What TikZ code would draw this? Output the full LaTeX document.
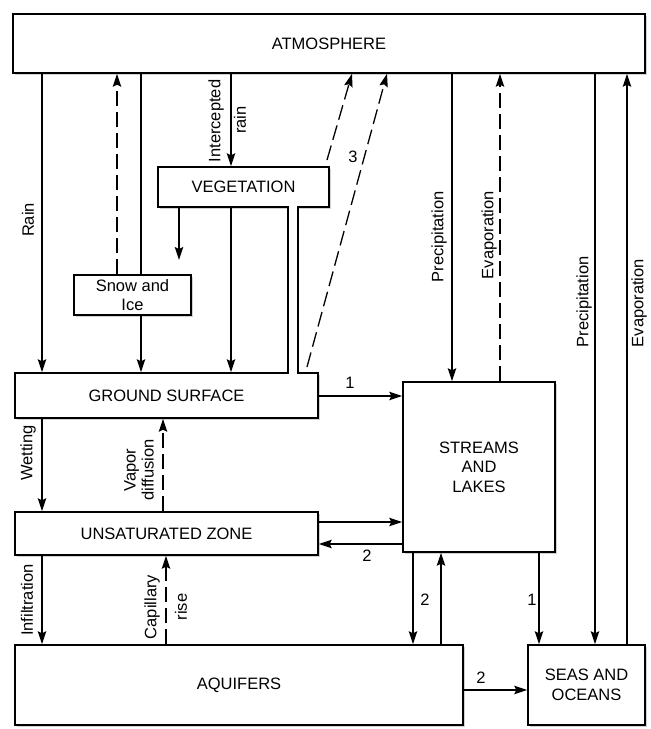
\documentclass[tikz,border=0pt]{standalone}
\usepackage{fontspec}
\setmainfont{Liberation Sans}
\usetikzlibrary{arrows.meta,calc,shadows}
\begin{document}
\begin{tikzpicture}[x=1pt,y=-1pt,
  box/.style={draw, line width=1.5pt, fill=white, inner sep=0pt, font=\fontsize{16.5}{19.5}\selectfont, align=center,
    drop shadow={shadow xshift=1.8pt, shadow yshift=-1.8pt, fill=black!35}},
  flow/.style={line width=1.3pt, -{Stealth[length=13pt,width=8.5pt,inset=2pt]}},
  dflow/.style={flow, dash pattern=on 15pt off 6pt},
  plain/.style={line width=1.3pt},
  lbl/.style={font=\fontsize{16.5}{18}\selectfont, inner sep=1pt, align=center},
  vlbl/.style={lbl, rotate=90}]
\useasboundingbox (0,0) rectangle (651,729);

% boxes
\node[box, minimum width=632pt, minimum height=59pt] (atm) at (329,43.5) {ATMOSPHERE};
\node[box, minimum width=171pt, minimum height=40pt] (veg) at (243.5,187) {VEGETATION};
\node[box, minimum width=117pt, minimum height=40pt] (snow) at (132.5,295) {Snow and\\Ice};
\node[box, minimum width=303pt, minimum height=45pt] (ground) at (166.5,395.5) {GROUND SURFACE};
\node[box, minimum width=303pt, minimum height=43pt] (unsat) at (166.5,533.5) {UNSATURATED ZONE};
\node[box, minimum width=152pt, minimum height=170pt] (streams) at (479,467) {STREAMS\\AND\\LAKES};
\node[box, minimum width=448pt, minimum height=80pt] (aquifers) at (239,685) {AQUIFERS};
\node[box, minimum width=117pt, minimum height=80pt] (seas) at (586.5,685) {SEAS AND\\OCEANS};

% helper columns and rows
\coordinate (cRain) at (42,0);
\coordinate (cSnowUp) at (117,0);
\coordinate (cSnow) at (141,0);
\coordinate (cVegL) at (179,0);
\coordinate (cInt) at (231,0);
\coordinate (stemL) at (288,0);
\coordinate (stemR) at (298,0);
\coordinate (cT1) at (352,0);
\coordinate (cT2) at (387,0);
\coordinate (cPrecA) at (452,0);
\coordinate (cEvapA) at (500,0);
\coordinate (cPrecB) at (595,0);
\coordinate (cEvapB) at (627,0);
\coordinate (cVap) at (163,0);
\coordinate (cCap) at (166,0);
\coordinate (cSA) at (413,0);
\coordinate (cAS) at (441,0);
\coordinate (cSS) at (539,0);
\coordinate (rGS) at (0,396);
\coordinate (rUS1) at (0,522);
\coordinate (rUS2) at (0,544);
\coordinate (rAq) at (0,690);
\coordinate (vegEnd) at (179,260);
\coordinate (t1) at (327,160);
\coordinate (t2) at (307,367);

% vegetation stem joining the ground surface
\fill[white] ($(veg.south -| stemL)+(0.8,-2)$) rectangle ($(ground.north -| stemR)+(-0.8,2.5)$);
\draw[line width=1.5pt] (veg.south -| stemL) -- (ground.north -| stemL);
\draw[line width=1.5pt] (veg.south -| stemR) -- (ground.north -| stemR);

% upper connectors
\draw[flow] (atm.south -| cRain) -- (ground.north -| cRain);
\draw[dflow] (snow.north -| cSnowUp) -- (atm.south -| cSnowUp);
\draw[plain] (atm.south -| cSnow) -- (snow.north -| cSnow);
\draw[flow] (snow.south -| cSnow) -- (ground.north -| cSnow);
\draw[flow] (atm.south -| cInt) -- (veg.north -| cInt);
\draw[flow] (veg.south -| cVegL) -- (vegEnd);
\draw[flow] (veg.south -| cInt) -- (ground.north -| cInt);
\draw[dflow] (t1) -- (atm.south -| cT1);
\draw[dflow] (t2) -- (atm.south -| cT2);
\draw[flow] (atm.south -| cPrecA) -- (streams.north -| cPrecA);
\draw[dflow] (streams.north -| cEvapA) -- (atm.south -| cEvapA);
\draw[flow] (atm.south -| cPrecB) -- (seas.north -| cPrecB);
\draw[flow] (seas.north -| cEvapB) -- (atm.south -| cEvapB);

% middle connectors
\draw[flow] (ground.east |- rGS) -- (streams.west |- rGS);
\draw[flow] (ground.south -| cRain) -- (unsat.north -| cRain);
\draw[dflow] (unsat.north -| cVap) -- (ground.south -| cVap);
\draw[flow] (unsat.east |- rUS1) -- (streams.west |- rUS1);
\draw[flow] (streams.west |- rUS2) -- (unsat.east |- rUS2);

% lower connectors
\draw[flow] (unsat.south -| cRain) -- (aquifers.north -| cRain);
\draw[dflow] (aquifers.north -| cCap) -- (unsat.south -| cCap);
\draw[flow] (streams.south -| cSA) -- (aquifers.north -| cSA);
\draw[flow] (aquifers.north -| cAS) -- (streams.south -| cAS);
\draw[flow] (streams.south -| cSS) -- (seas.north -| cSS);
\draw[flow] (aquifers.east |- rAq) -- (seas.west |- rAq);

% labels
\node[vlbl] (lRain) at (28,220) {Rain};
\node[vlbl] (lInt) at (216,121) {Intercepted};
\node[vlbl] (lIntR) at (240,120) {rain};
\node[lbl] (l3) at (353,157) {3};
\node[vlbl] (lPrecA) at (439,237) {Precipitation};
\node[vlbl] (lEvapA) at (489,235) {Evaporation};
\node[vlbl] (lPrecB) at (584,302) {Precipitation};
\node[vlbl] (lEvapB) at (639,303) {Evaporation};
\node[lbl] (l1a) at (350,383) {1};
\node[vlbl] (lWet) at (28,453) {Wetting};
\node[vlbl] (lVap) at (139,470) {Vapor\\diffusion};
\node[lbl] (l2a) at (367,556) {2};
\node[vlbl] (lInf) at (27,600) {Infiltration};
\node[vlbl] (lCap) at (152,607) {Capillary};
\node[vlbl] (lRise) at (181,607) {rise};
\node[lbl] (l2b) at (425,600) {2};
\node[lbl] (l1b) at (532,600) {1};
\node[lbl] (l2c) at (481,678) {2};
\end{tikzpicture}
\end{document}
